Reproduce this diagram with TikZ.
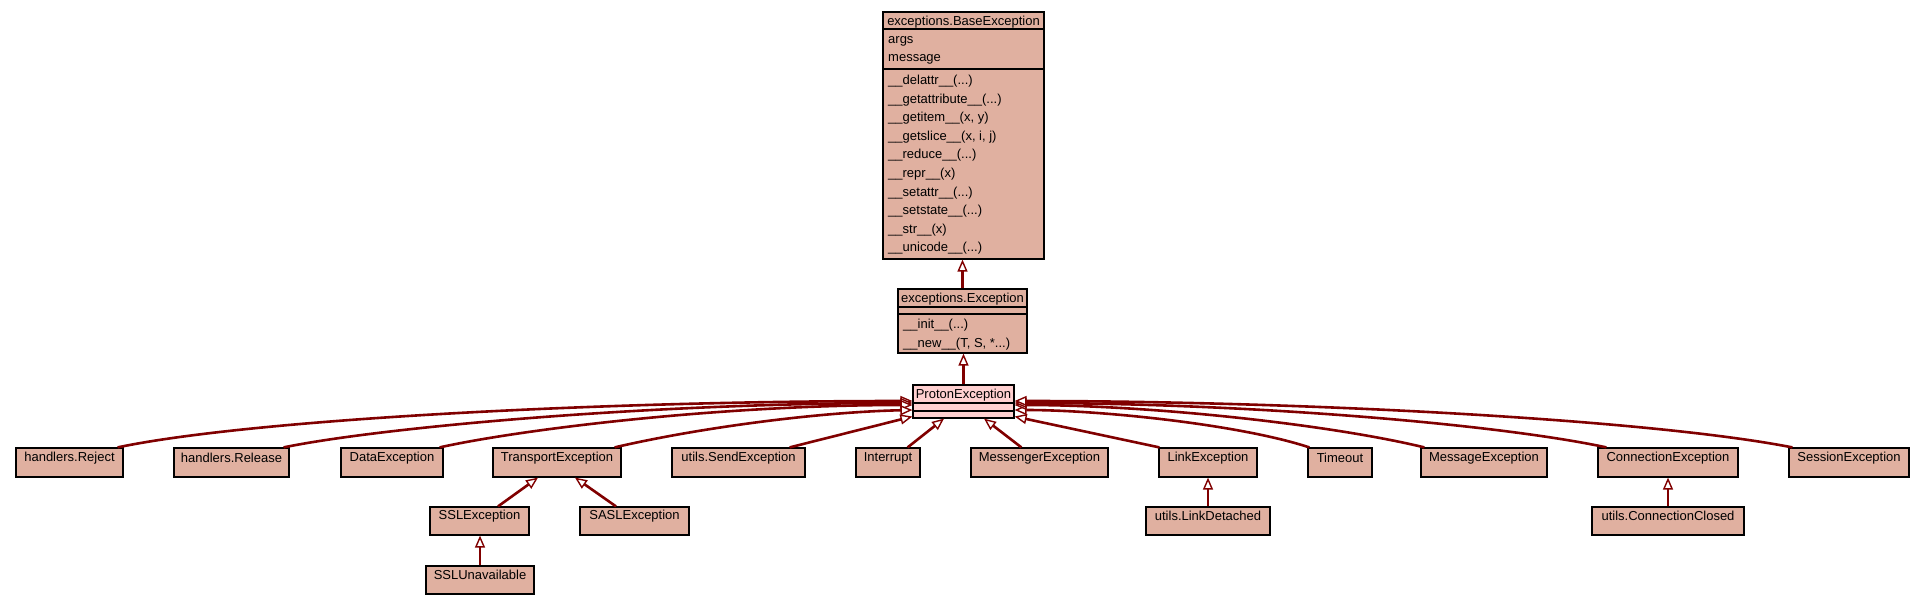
\documentclass[tikz,border=0pt]{standalone}
\usepackage{fontspec}
\setmainfont{Liberation Sans}
\usetikzlibrary{arrows.meta,fit}
\definecolor{clsbg}{HTML}{E0B0A0}
\definecolor{selbg}{HTML}{FFD0D0}
\definecolor{inhc}{HTML}{800000}
\begin{document}
\begin{tikzpicture}[x=1pt,y=-1pt,
  font=\fontsize{13}{15}\selectfont,
  cls/.style={draw=black, line width=1.2pt, fill=clsbg, inner sep=0pt, text height=9pt, text depth=0pt},
  sel/.style={cls, fill=selbg},
  sep/.style={draw=black, line width=1.2pt},
  ttl/.style={inner sep=0pt, text height=9pt, text depth=0pt},
  mem/.style={inner sep=0pt, anchor=base west},
  inh/.style={draw=inhc, line width=2.6pt, -{Triangle[length=12pt, width=10pt, fill=white, line width=1.4pt]}}]
\useasboundingbox (0,0) rectangle (1925,605);

% exceptions.BaseException
\node[cls, fit={(883,12) (1044,259)}] (base) {};
\draw[sep] (883,29) -- (1044,29);
\draw[sep] (883,69) -- (1044,69);
\node[ttl] (baset) at (963.5,20.5) {exceptions.BaseException};
\node[mem] (b1) at (888,43.5) {args};
\node[mem] (b2) at (888,61.5) {message};
\node[mem] (b3) at (888,84.5) {\_\_delattr\_\_(...)};
\node[mem] (b4) at (888,103.1) {\_\_getattribute\_\_(...)};
\node[mem] (b5) at (888,121.7) {\_\_getitem\_\_(x, y)};
\node[mem] (b6) at (888,140.3) {\_\_getslice\_\_(x, i, j)};
\node[mem] (b7) at (888,158.9) {\_\_reduce\_\_(...)};
\node[mem] (b8) at (888,177.5) {\_\_repr\_\_(x)};
\node[mem] (b9) at (888,196.1) {\_\_setattr\_\_(...)};
\node[mem] (b10) at (888,214.7) {\_\_setstate\_\_(...)};
\node[mem] (b11) at (888,233.3) {\_\_str\_\_(x)};
\node[mem] (b12) at (888,251.9) {\_\_unicode\_\_(...)};

% exceptions.Exception
\node[cls, fit={(898,289) (1027,353)}] (exc) {};
\draw[sep] (898,307) -- (1027,307);
\draw[sep] (898,314) -- (1027,314);
\node[ttl] (exct) at (962.5,298) {exceptions.Exception};
\node[mem] (e1) at (903,328.5) {\_\_init\_\_(...)};
\node[mem] (e2) at (903,347.5) {\_\_new\_\_(T, S, *...)};

% ProtonException
\node[sel, fit={(913,385) (1014,418)}] (proton) {};
\draw[sep] (913,403) -- (1014,403);
\draw[sep] (913,411) -- (1014,411);
\node[ttl] (protont) at (963.5,394) {ProtonException};

% first row
\node[cls, fit={(16,448) (123,477)}] (reject) {handlers.Reject};
\node[cls, fit={(174,448) (289,477)}] (release) {handlers.Release};
\node[cls, fit={(341,448) (443,477)}] (data) {DataException};
\node[cls, fit={(493,448) (621,477)}] (transport) {TransportException};
\node[cls, fit={(672,448) (805,477)}] (send) {utils.SendException};
\node[cls, fit={(856,448) (920,477)}] (interrupt) {Interrupt};
\node[cls, fit={(971,448) (1108,477)}] (messenger) {MessengerException};
\node[cls, fit={(1159,448) (1257,477)}] (link) {LinkException};
\node[cls, fit={(1308,448) (1372,477)}] (timeout) {Timeout};
\node[cls, fit={(1421,448) (1547,477)}] (message) {MessageException};
\node[cls, fit={(1598,448) (1738,477)}] (connection) {ConnectionException};
\node[cls, fit={(1789,448) (1909,477)}] (session) {SessionException};

% second row
\node[cls, fit={(430,507) (529,535)}] (ssl) {SSLException};
\node[cls, fit={(580,507) (689,535)}] (sasl) {SASLException};
\node[cls, fit={(1146,507) (1270,535)}] (linkdet) {utils.LinkDetached};
\node[cls, fit={(1592,507) (1744,535)}] (connclosed) {utils.ConnectionClosed};

% third row
\node[cls, fit={(426,566) (534,594)}] (sslu) {SSLUnavailable};

% inheritance edges
\draw[inh] (exc.north) -- (exc.north |- base.south);
\draw[inh] (proton.north) -- (proton.north |- exc.south);

\draw[inh] ([xshift=-6pt]reject.north east) .. controls +(133,-28) and +(-313,0) .. ([yshift=0.5pt]proton.west);
\draw[inh] ([xshift=-6pt]release.north east) .. controls +(97,-20) and +(-263,0) .. ([yshift=-1.5pt]proton.west);
\draw[inh] ([xshift=-4pt]data.north east) .. controls +(81,-18) and +(-193,0) .. ([yshift=-3.5pt]proton.west);
\draw[inh] ([xshift=-7pt]transport.north east) .. controls +(86,-20) and +(-93,2) .. ([yshift=-8.5pt]proton.west);
\draw[inh] ([xshift=-16pt]send.north east) -- ([yshift=-15pt]proton.west);
\draw[inh] ([xshift=-13pt]interrupt.north east) -- ([xshift=-19.5pt]proton.south);
\draw[inh] ([xshift=51pt]messenger.north west) -- ([xshift=20.5pt]proton.south);
\draw[inh] ([xshift=1pt]link.north west) -- ([yshift=-15pt]proton.east);
\draw[inh] ([xshift=2pt]timeout.north west) .. controls +(-70,-23) and +(86,0) .. ([yshift=-8.5pt]proton.east);
\draw[inh] ([xshift=4pt]message.north west) .. controls +(-95,-23) and +(136,0) .. ([yshift=-3.5pt]proton.east);
\draw[inh] ([xshift=9pt]connection.north west) .. controls +(-107,-23) and +(236,0) .. ([yshift=-1.5pt]proton.east);
\draw[inh] ([xshift=4pt]session.north west) .. controls +(-143,-28) and +(286,0) .. ([yshift=0.5pt]proton.east);

\draw[inh] ([xshift=18.5pt]ssl.north) -- ([xshift=-19pt]transport.south);
\draw[inh] ([xshift=-18.5pt]sasl.north) -- ([xshift=18pt]transport.south);
\draw[inh] (sslu.north) -- (sslu.north |- ssl.south);
\draw[inh] (linkdet.north) -- (linkdet.north |- link.south);
\draw[inh] (connclosed.north) -- (connclosed.north |- connection.south);
\end{tikzpicture}
\end{document}
